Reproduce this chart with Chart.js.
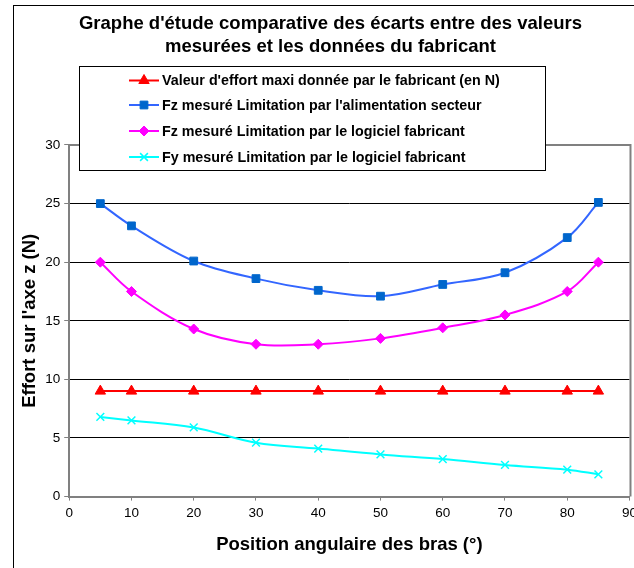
<!DOCTYPE html>
<html>
<head>
<meta charset="utf-8">
<script src="https://cdn.jsdelivr.net/npm/chart.js@4/dist/chart.umd.min.js"></script>
<style>
	html, body { margin: 0; padding: 0; background: #fff; overflow: hidden; }
	#chart { display: block; }
</style>
</head>
<body>
<canvas id="chart" width="642" height="580"></canvas>
<script>
// angle positions (°)
const angles = [5, 10, 20, 30, 40, 50, 60, 70, 80, 85];

// series values (N)
const effortFabricant = [9, 9, 9, 9, 9, 9, 9, 9, 9, 9];
const fzSecteur = [25, 23.1, 20.1, 18.6, 17.6, 17.1, 18.1, 19.1, 22.1, 25.1];
const fzLogiciel = [20, 17.5, 14.3, 13, 13, 13.5, 14.4, 15.5, 17.5, 20];
const fyLogiciel = [6.8, 6.5, 5.9, 4.6, 4.1, 3.6, 3.2, 2.7, 2.3, 1.9];

const seriesLabels = [
	"Valeur d'effort maxi donnée par le fabricant (en N)",
	"Fz mesuré Limitation par l'alimentation secteur",
	"Fz mesuré Limitation par le logiciel fabricant",
	"Fy mesuré Limitation par le logiciel fabricant"
];

const xTicks = [0, 10, 20, 30, 40, 50, 60, 70, 80, 90];
const yTicks = [0, 5, 10, 15, 20, 25, 30];

const FONT = "Arial, 'Liberation Sans', sans-serif";
const toPoints = (vals) => vals.map((v, i) => ({ x: angles[i], y: v }));

// outer frame, plot border and the legend box that sits over the plot (Excel style)
const excelFrame = {
	id: "excelFrame",
	beforeDraw(chart) {
		const c = chart.ctx;
		c.save();
		c.fillStyle = "#fff";
		c.fillRect(0, 0, chart.width, chart.height);
		c.strokeStyle = "#000";
		c.lineWidth = 1;
		c.strokeRect(13.5, 5.5, chart.width + 10, chart.height + 10);
		c.restore();
	},
	afterDraw(chart) {
		const c = chart.ctx;
		const a = chart.chartArea;
		c.save();
		c.strokeStyle = "#808080";
		c.lineWidth = 2;
		c.beginPath();
		c.moveTo(a.left, a.top);
		c.lineTo(a.right + 1, a.top);
		c.lineTo(a.right + 1, a.bottom);
		c.stroke();

		const box = { x: 79.5, y: 66.5, w: 466, h: 104 };
		c.fillStyle = "#fff";
		c.fillRect(box.x, box.y, box.w, box.h);
		c.strokeStyle = "#000";
		c.lineWidth = 1;
		c.strokeRect(box.x, box.y, box.w, box.h);
		const rows = [80.5, 105, 131, 157];
		c.font = "bold 14.3px " + FONT;
		c.textBaseline = "middle";
		c.textAlign = "left";
		chart.data.datasets.forEach((ds, i) => {
			const y = rows[i];
			c.strokeStyle = ds.borderColor;
			c.lineWidth = ds.borderWidth;
			c.beginPath();
			c.moveTo(129, y);
			c.lineTo(159, y);
			c.stroke();
			c.fillStyle = ds.pointBackgroundColor;
			c.strokeStyle = ds.pointBorderColor;
			c.lineWidth = ds.pointBorderWidth;
			Chart.helpers.drawPoint(c, {
				pointStyle: ds.pointStyle,
				radius: ds.pointRadius,
				rotation: 0,
				borderWidth: ds.pointBorderWidth
			}, 144, y);
			c.fillStyle = "#000";
			c.fillText(ds.label, 162, y + 1);
		});
		c.restore();
	}
};

new Chart(document.getElementById("chart"), {
	type: "line",
	data: {
		datasets: [
			{
				label: seriesLabels[0],
				data: toPoints(effortFabricant),
				borderColor: "#ff0000",
				borderWidth: 2,
				pointStyle: "triangle",
				pointRadius: 6,
				pointBackgroundColor: "#ff0000",
				pointBorderColor: "#ff0000",
				pointBorderWidth: 1,
				tension: 0
			},
			{
				label: seriesLabels[1],
				data: toPoints(fzSecteur),
				borderColor: "#3366ff",
				borderWidth: 2,
				pointStyle: "rect",
				pointRadius: 5.5,
				pointBackgroundColor: "#0066cc",
				pointBorderColor: "#0066cc",
				pointBorderWidth: 1,
				tension: 0.35
			},
			{
				label: seriesLabels[2],
				data: toPoints(fzLogiciel),
				borderColor: "#ff00ff",
				borderWidth: 2,
				pointStyle: "rectRot",
				pointRadius: 5,
				pointBackgroundColor: "#ff00ff",
				pointBorderColor: "#ff00ff",
				pointBorderWidth: 1,
				tension: 0.35
			},
			{
				label: seriesLabels[3],
				data: toPoints(fyLogiciel),
				borderColor: "#00ffff",
				borderWidth: 2,
				pointStyle: "crossRot",
				pointRadius: 5.5,
				pointBackgroundColor: "#00ffff",
				pointBorderColor: "#00ffff",
				pointBorderWidth: 1.5,
				tension: 0.35
			}
		]
	},
	options: {
		responsive: false,
		animation: false,
		layout: { padding: { left: 19, right: 0, top: 0, bottom: 24 } },
		plugins: {
			legend: { display: false },
			tooltip: { enabled: false },
			title: {
				display: true,
				text: ["Graphe d'étude comparative des écarts entre des valeurs", "mesurées et les données du fabricant"],
				color: "#000",
				font: { family: FONT, size: 18.5, weight: "bold", lineHeight: 1.27 },
				padding: { top: 12, bottom: 86 }
			}
		},
		scales: {
			x: {
				type: "linear",
				min: 0,
				max: 90,
				afterBuildTicks: (axis) => { axis.ticks = xTicks.map(v => ({ value: v })); },
				ticks: { color: "#000", font: { family: FONT, size: 13.5 }, padding: 5, maxRotation: 0 },
				grid: { drawOnChartArea: false, drawTicks: true, tickLength: 4, tickColor: "#808080", lineWidth: 1 },
				border: { display: true, color: "#808080", width: 2 },
				title: {
					display: true,
					text: "Position angulaire des bras (°)",
					color: "#000",
					font: { family: FONT, size: 18.5, weight: "bold" },
					padding: { top: 7, bottom: 0 }
				}
			},
			y: {
				min: 0,
				max: 30,
				afterBuildTicks: (axis) => { axis.ticks = yTicks.map(v => ({ value: v })); },
				ticks: { color: "#000", font: { family: FONT, size: 13.5 }, padding: 4 },
				grid: { color: "#000", lineWidth: 1, drawTicks: true, tickLength: 5, tickColor: "#808080" },
				border: { display: true, color: "#808080", width: 2 },
				title: {
					display: true,
					text: "Effort sur l'axe z (N)",
					color: "#000",
					font: { family: FONT, size: 18.5, weight: "bold" },
					padding: { top: 0, bottom: 0 }
				}
			}
		}
	},
	plugins: [excelFrame]
});
</script>
</body>
</html>
